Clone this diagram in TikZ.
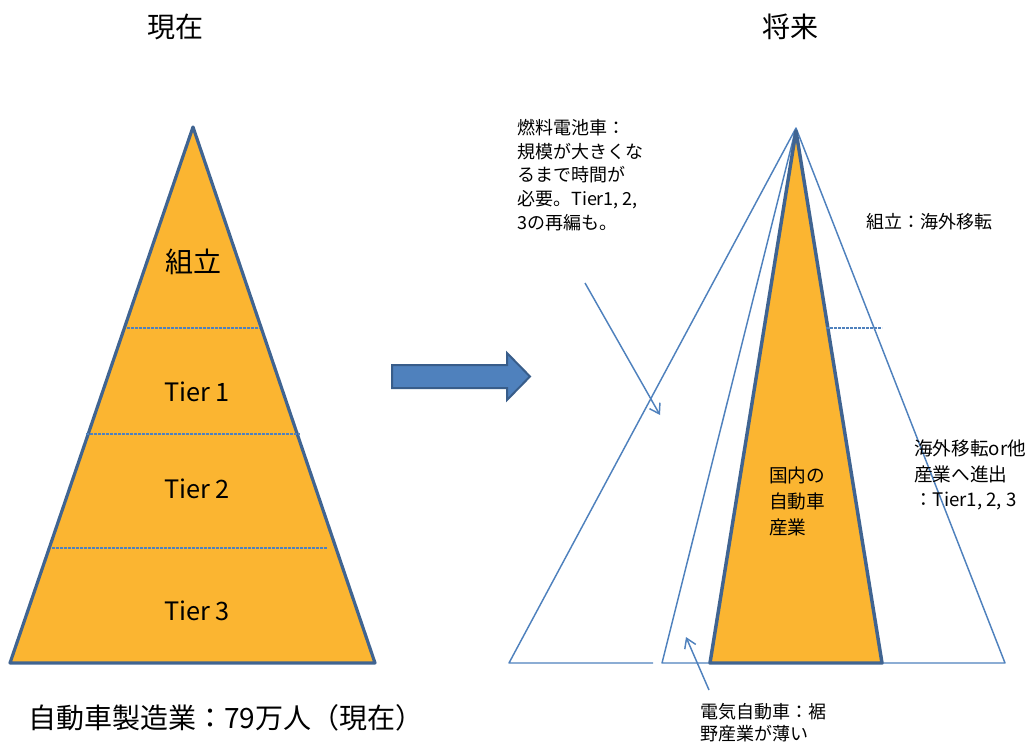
\documentclass[tikz,border=0pt]{standalone}
\usepackage{fontspec}
\setmainfont{Noto Sans CJK JP}
\usetikzlibrary{arrows.meta}
\definecolor{orfill}{RGB}{251,181,49}
\definecolor{edgeblue}{RGB}{64,100,145}
\definecolor{thinblue}{RGB}{79,129,189}
\definecolor{arrowedge}{RGB}{56,93,138}
\tikzset{
  pyr/.style={fill=orfill,draw=edgeblue,line width=2.4pt,line join=round},
  thin/.style={draw=thinblue,line width=1.1pt},
  tierdash/.style={draw=thinblue,line width=0.8pt,dash pattern=on 2pt off 1pt},
  note/.style={font=\fontsize{13.5}{17.8}\selectfont,align=left,inner sep=0pt,anchor=north west},
  tierlbl/.style={font=\fontsize{19}{22}\selectfont,inner sep=0pt},
  title/.style={font=\fontsize{21}{24}\selectfont,inner sep=0pt},
  annarrow/.style={draw=thinblue,line width=1.1pt,-{Straight Barb[length=7pt,width=9pt,line width=1.1pt]}},
  bigarrow/.style={fill=thinblue,draw=arrowedge,line width=1.5pt,line join=miter}
}
\begin{document}
\begin{tikzpicture}[x=0.75pt,y=-0.75pt]
\useasboundingbox (0,0) rectangle (1032,742);
% titles
\node[title] (tnow) at (175,27) {現在};
\node[title] (tfut) at (790,27) {将来};
% left pyramid
\coordinate (LA) at (193,127);
\coordinate (LL) at (10,663);
\coordinate (LR) at (375,663);
\path[pyr] (LA) -- (LL) -- (LR) -- cycle;
\coordinate (d1a) at (127,328); \coordinate (d1b) at (260,328);
\coordinate (d2a) at (86,434); \coordinate (d2b) at (300,434);
\coordinate (d3a) at (52,548); \coordinate (d3b) at (327,548);
\draw[tierdash] (d1a) -- (d1b);
\draw[tierdash] (d2a) -- (d2b);
\draw[tierdash] (d3a) -- (d3b);
\node[font=\fontsize{21}{24}\selectfont,inner sep=0pt] (kumi) at (193,262) {組立};
\node[tierlbl] (t1) at (197,392) {Tier 1};
\node[tierlbl] (t2) at (197,489) {Tier 2};
\node[tierlbl] (t3) at (197,611) {Tier 3};
\node[font=\fontsize{21}{24}\selectfont,inner sep=0pt,anchor=west] (total) at (28,718) {自動車製造業：79万人（現在）};
% big arrow
\path[bigarrow] (392,365) -- (507,365) -- (507,353) -- (530,376.5) -- (507,400) -- (507,388) -- (392,388) -- cycle;
% right side
\coordinate (RA) at (796,128);
\coordinate (R1) at (509,663);
\coordinate (R2) at (653,663);
\coordinate (R3) at (662,663);
\coordinate (R4) at (1005,663);
\draw[thin,line join=round] (R2) -- (R1) -- (RA) -- (R4) -- (R3) -- (RA);
\coordinate (OA) at (796,131);
\coordinate (OL) at (710,663);
\coordinate (OR) at (882,663);
\path[pyr,line width=2.6pt] (OA) -- (OL) -- (OR) -- cycle;
\coordinate (d4a) at (826,328); \coordinate (d4b) at (882,328);
\draw[tierdash] (d4a) -- (d4b);
% notes
\node[note] (fc) at (517,119) {燃料電池車：\\規模が大きくな\\るまで時間が\\必要。Tier1, 2,\\3の再編も。};
\node[note,anchor=west] (asm) at (866,222) {組立：海外移転};
\node[note,font=\fontsize{14}{18.8}\selectfont] (reloc) at (914,440) {海外移転or他\\産業へ進出\\：Tier1, 2, 3};
\node[note,font=\fontsize{14}{19.5}\selectfont] (dom) at (769,467) {国内の\\自動車\\産業};
\node[note,font=\fontsize{13.5}{16.5}\selectfont] (ev) at (700,703) {電気自動車：裾\\野産業が薄い};
% annotation arrows
\coordinate (fcS) at (585,283); \coordinate (fcE) at (660,415);
\coordinate (evS) at (709,690); \coordinate (evE) at (686,637);
\draw[annarrow] (fcS) -- (fcE);
\draw[annarrow] (evS) -- (evE);
\end{tikzpicture}
\end{document}
